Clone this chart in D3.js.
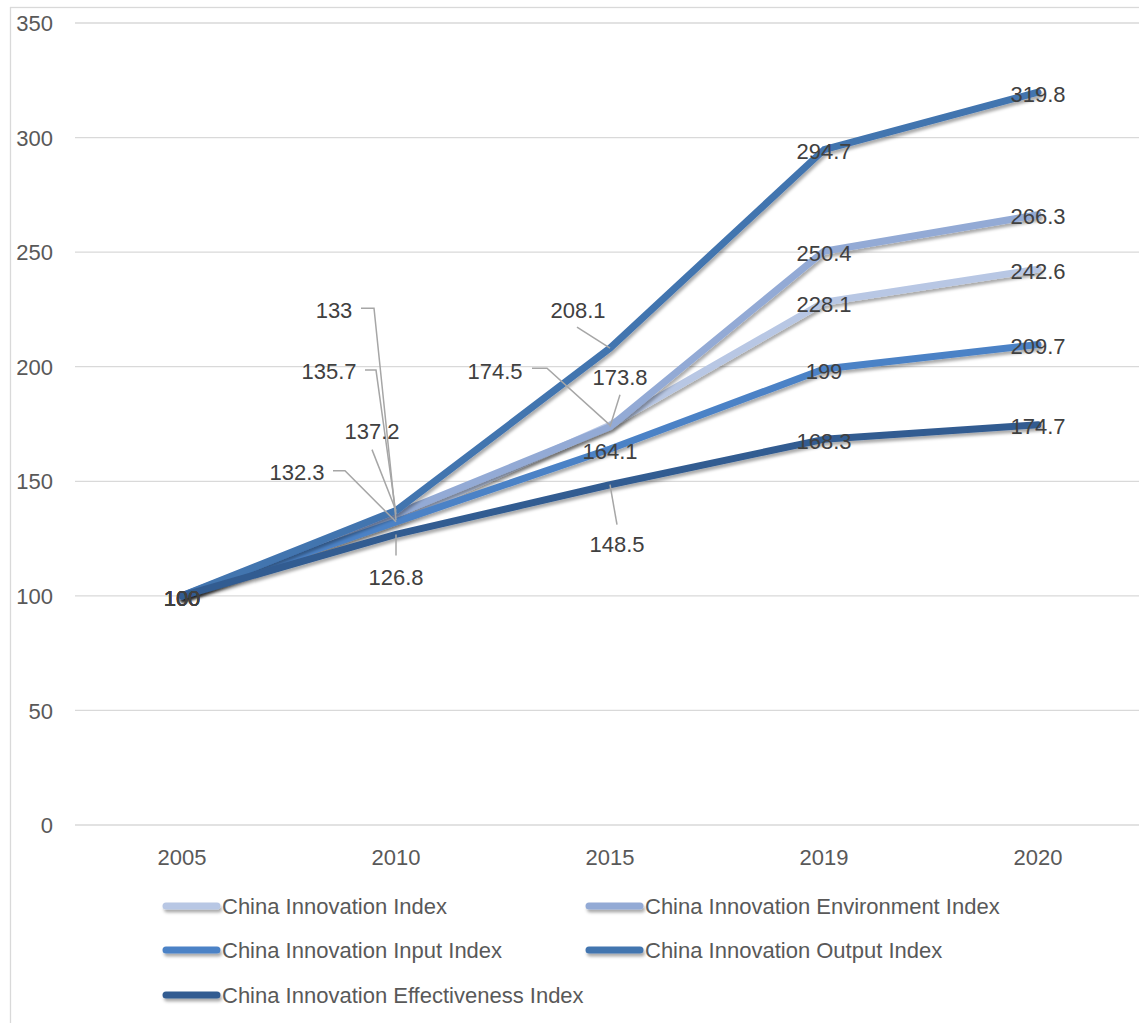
<!DOCTYPE html>
<html>
<head>
<meta charset="utf-8">
<script src="https://cdn.jsdelivr.net/npm/d3@7/dist/d3.min.js"></script>
<style>
  html, body { margin: 0; padding: 0; background: #ffffff; }
  svg { display: block; }
  text { font-family: "Liberation Sans", Arial, sans-serif; }
</style>
</head>
<body>
<svg id="chart" width="1139" height="1023"></svg>
<script>
// ---- data ----
const years = ["2005", "2010", "2015", "2019", "2020"];
const seriesNames = [
  "China Innovation Index",
  "China Innovation Environment Index",
  "China Innovation Input Index",
  "China Innovation Output Index",
  "China Innovation Effectiveness Index"
];
const innovationIndex    = [100, 133.0, 174.5, 228.1, 242.6];
const environmentIndex   = [100, 135.7, 173.8, 250.4, 266.3];
const inputIndex         = [100, 132.3, 164.1, 199.0, 209.7];
const outputIndex        = [100, 137.2, 208.1, 294.7, 319.8];
const effectivenessIndex = [100, 126.8, 148.5, 168.3, 174.7];
const yTicks = [0, 50, 100, 150, 200, 250, 300, 350];

const seriesValues = [innovationIndex, environmentIndex, inputIndex, outputIndex, effectivenessIndex];
const seriesColors = ["#b8c7e4", "#93aad5", "#4c82c6", "#4274af", "#335c91"];

// Hand-placed data labels: offset of the label centre from its point,
// plus the bend points of the leader line (also relative to the point).
const labelLayout = {
  "0-1": { d: [-62, -210], leader: [[-35, -212], [-22, -212]] },
  "1-1": { d: [-67, -143], leader: [[-31, -144], [-20, -144]] },
  "3-1": { d: [-24, -79],  leader: [[-24, -61]] },
  "2-1": { d: [-99, -50],  leader: [[-63, -51], [-51, -51]] },
  "4-1": { d: [0, 43],     leader: [[0, 21]] },
  "3-2": { d: [-32, -38],  leader: [[-33, -21]] },
  "0-2": { d: [-115, -54], leader: [[-78, -57], [-63, -57]] },
  "1-2": { d: [10, -49],   leader: [[10, -32]] },
  "2-2": { d: [0, 2] },
  "4-2": { d: [7, 60],     leader: [[7, 40]] }
};

const FONT = 22;
const svg = d3.select("#chart");

// soft shadow under the series lines
const defs = svg.append("defs");
const f = defs.append("filter").attr("id", "lineShadow")
  .attr("filterUnits", "userSpaceOnUse")
  .attr("x", -200).attr("y", -200).attr("width", 1600).attr("height", 1500);
f.append("feDropShadow").attr("dx", 1.5).attr("dy", 3)
  .attr("stdDeviation", 1.6).attr("flood-color", "#000").attr("flood-opacity", 0.33);

// chart frame
svg.append("rect").attr("x", 10.5).attr("y", 7.5).attr("width", 1200).attr("height", 1100)
  .attr("fill", "none").attr("stroke", "#d9d9d9").attr("stroke-width", 1.3);

const x = d3.scaleBand().domain(years).range([75, 1145]).padding(0);
const cx = yr => x(yr) + x.bandwidth() / 2;
const y = d3.scaleLinear().domain([0, 350]).range([825, 23]);

// gridlines
svg.append("g").selectAll("line").data(yTicks).join("line")
  .attr("x1", 75).attr("x2", 1145)
  .attr("y1", d => y(d)).attr("y2", d => y(d))
  .attr("stroke", "#d9d9d9").attr("stroke-width", 1.3);

// y axis labels
const yAxis = d3.axisLeft(y).tickValues(yTicks).tickSize(0).tickPadding(0);
const yg = svg.append("g").attr("transform", "translate(53,0)").call(yAxis);
yg.select(".domain").remove();
yg.selectAll("text").attr("font-size", FONT).attr("fill", "#595959")
  .attr("font-family", "Liberation Sans, Arial, sans-serif")
  .attr("dy", "0.35em").attr("text-anchor", "end");

// x axis labels
const xAxis = d3.axisBottom(x).tickSize(0).tickPadding(0);
const xg = svg.append("g").attr("transform", "translate(0,825)").call(xAxis);
xg.select(".domain").remove();
xg.selectAll("text").attr("font-size", FONT).attr("fill", "#595959")
  .attr("font-family", "Liberation Sans, Arial, sans-serif")
  .attr("y", 32).attr("dy", "0.35em");

// series lines
const line = d3.line().x((d, i) => cx(years[i])).y(d => y(d));
svg.append("g").selectAll("path").data(seriesValues).join("path")
  .attr("d", d => line(d))
  .attr("fill", "none")
  .attr("stroke", (d, i) => seriesColors[i])
  .attr("stroke-width", 7)
  .attr("stroke-linejoin", "round")
  .attr("stroke-linecap", "round")
  .attr("filter", "url(#lineShadow)");

// data labels and leader lines
const labels = [];
seriesValues.forEach((vals, s) => {
  vals.forEach((v, i) => {
    const lay = labelLayout[s + "-" + i] || { d: [0, 2] };
    labels.push({ s, i, v, px: cx(years[i]), py: y(v), lay });
  });
});

const leaders = svg.append("g");
labels.filter(l => l.lay.leader).forEach(l => {
  const pts = l.lay.leader.map(p => [l.px + p[0], l.py + p[1]]);
  pts.push([l.px, l.py]);
  leaders.append("path")
    .attr("d", d3.line()(pts))
    .attr("fill", "none").attr("stroke", "#a6a6a6").attr("stroke-width", 1.5);
});

svg.append("g").selectAll("text").data(labels).join("text")
  .attr("x", d => d.px + d.lay.d[0])
  .attr("y", d => d.py + d.lay.d[1])
  .attr("text-anchor", "middle")
  .attr("dy", "0.35em")
  .attr("font-size", FONT)
  .attr("fill", "#404040")
  .text(d => d3.format("")(d.v));

// legend
const legendPos = [[162, 906], [585, 906], [162, 950], [585, 950], [162, 995]];
const lg = svg.append("g").selectAll("g").data(seriesNames).join("g")
  .attr("transform", (d, i) => `translate(${legendPos[i][0]},${legendPos[i][1]})`);
lg.append("line").attr("x1", 4).attr("x2", 55).attr("y1", 0).attr("y2", 0)
  .attr("stroke", (d, i) => seriesColors[i]).attr("stroke-width", 7)
  .attr("stroke-linecap", "round").attr("filter", "url(#lineShadow)");
lg.append("text").attr("x", 60).attr("y", 0).attr("dy", "0.35em")
  .attr("font-size", FONT).attr("fill", "#595959").text(d => d);
</script>
</body>
</html>
